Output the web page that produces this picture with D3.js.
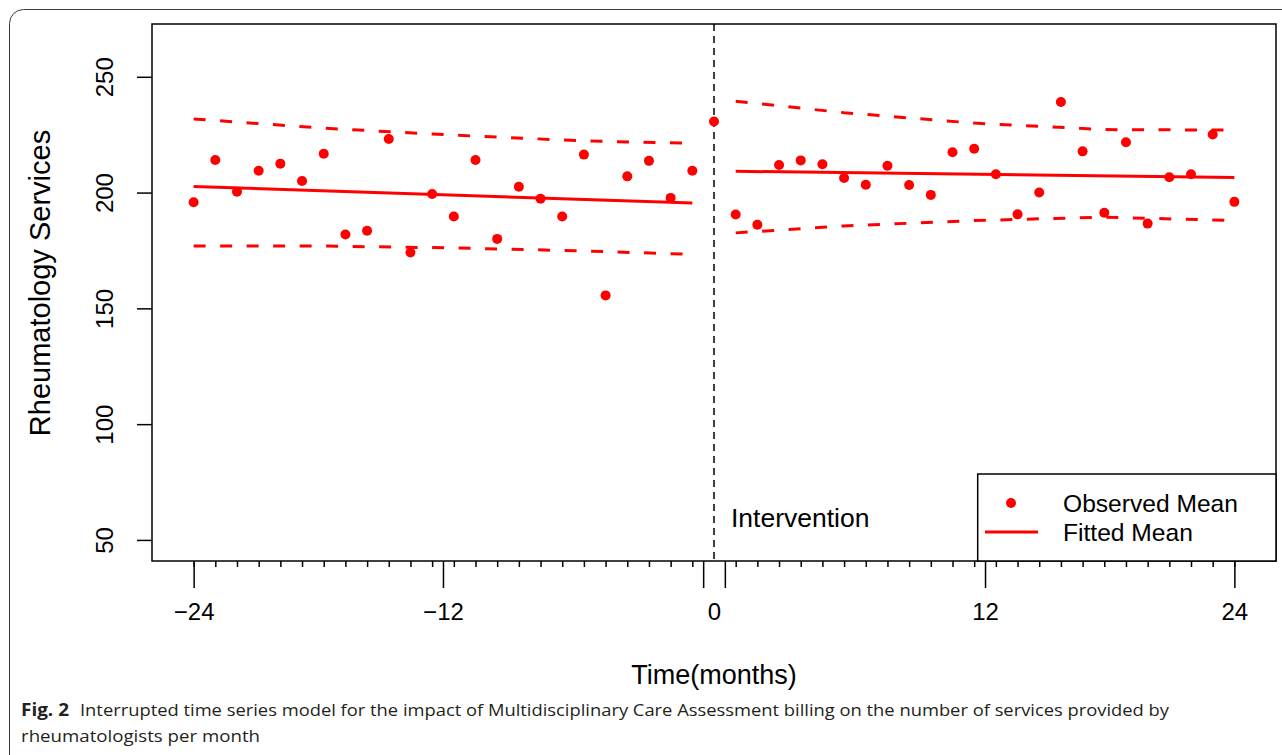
<!DOCTYPE html>
<html>
<head>
<meta charset="utf-8">
<script src="https://cdn.jsdelivr.net/npm/d3@7"></script>
<style>
  body { margin: 0; background: #fff; }
  svg { display: block; font-family: "Liberation Sans", Arial, sans-serif; }
</style>
</head>
<body>
<div id="chart"></div>
<script>
// Observed monthly means (months -24 .. 24)
const obsMonths = [-24, -23, -22, -21, -20, -19, -18, -17, -16, -15, -14, -13, -12,
  -11, -10, -9, -8, -7, -6, -5, -4, -3, -2, -1, 0,
  1, 2, 3, 4, 5, 6, 7, 8, 9, 10, 11, 12, 13, 14, 15, 16, 17, 18, 19, 20, 21, 22, 23, 24];
const obsValues = [195.8, 214.1, 200.4, 209.4, 212.5, 205.0, 216.8, 181.9, 183.5, 223.1, 174.1, 199.4, 189.7,
  214.1, 180.0, 202.5, 197.3, 189.7, 216.4, 155.6, 207.0, 213.7, 197.7, 209.4, 230.7,
  190.5, 186.1, 211.9, 213.9, 212.2, 206.3, 203.4, 211.6, 203.3, 199.0, 217.4, 218.9,
  207.9, 190.6, 200.0, 239.1, 217.8, 191.3, 221.7, 186.6, 206.6, 207.9, 225.1, 196.0];

// Fitted mean segments
const fitPreMonths = [-24, -1];
const fitPreValues = [202.6, 195.5];
const fitPostMonths = [1, 24];
const fitPostValues = [209.2, 206.5];

// Confidence bands (dashed)
const ciPreMonths = [-24, -18, -12, -6, -1];
const ciPreUpper = [231.8, 227.8, 224.8, 222.3, 221.3];
const ciPreLower = [176.9, 176.9, 176.1, 174.8, 173.3];
const ciPostMonths = [1, 6, 12, 18, 24];
const ciPostUpper = [239.4, 234.5, 230.0, 227.2, 227.0];
const ciPostLower = [182.6, 185.6, 187.9, 189.4, 187.9];

// Axes
const yTicks = [50, 100, 150, 200, 250];
const xMajorTicks = [-24, -12.5, -0.5, 0.5, 12.5, 24];
const xLabelPos = [-24, -12.5, 0, 12.5, 24];
const xLabels = ['\u221224', '\u221212', '0', '12', '24'];
const xMinorTicks = obsMonths.filter(m => m !== 0);

const width = 1282, height = 755;
const plot = {left: 152, right: 1276, top: 24, bottom: 561};
const red = '#ff0000';

const svg = d3.select('#chart').append('svg')
    .attr('width', width)
    .attr('height', height);

// Outer figure frame
svg.append('rect')
    .attr('x', 9.5).attr('y', 9.5)
    .attr('width', 1320).attr('height', 800)
    .attr('rx', 14)
    .attr('fill', 'none')
    .attr('stroke', '#3a3a3a')
    .attr('stroke-width', 1);

const x = d3.scaleLinear().domain([-25.92, 25.92]).range([plot.left, plot.right]);
const y = d3.scaleLinear().domain([40.9, 272.8]).range([plot.bottom, plot.top]);

// Intervention line
svg.append('line')
    .attr('x1', x(0)).attr('x2', x(0))
    .attr('y1', plot.top).attr('y2', plot.bottom)
    .attr('stroke', '#000')
    .attr('stroke-width', 1.5)
    .attr('stroke-dasharray', '7,5');

svg.append('text')
    .attr('x', x(0) + 17).attr('y', 527)
    .attr('font-size', 26.5)
    .text('Intervention');

const line = d3.line().x(d => x(d[0])).y(d => y(d[1]));
const zip = (a, b) => a.map((v, i) => [v, b[i]]);

// Dashed bands
[[ciPreMonths, ciPreUpper], [ciPreMonths, ciPreLower],
 [ciPostMonths, ciPostUpper], [ciPostMonths, ciPostLower]].forEach(([m, v]) => {
  svg.append('path')
      .attr('d', line(zip(m, v)))
      .attr('fill', 'none')
      .attr('stroke', red)
      .attr('stroke-width', 3)
      .attr('stroke-dasharray', '12,14.5');
});

// Fitted lines
[[fitPreMonths, fitPreValues], [fitPostMonths, fitPostValues]].forEach(([m, v]) => {
  svg.append('path')
      .attr('d', line(zip(m, v)))
      .attr('fill', 'none')
      .attr('stroke', red)
      .attr('stroke-width', 3);
});

// Observed points
svg.append('g').selectAll('circle')
  .data(zip(obsMonths, obsValues))
  .join('circle')
    .attr('cx', d => x(d[0]))
    .attr('cy', d => y(d[1]))
    .attr('r', 5)
    .attr('fill', red);

// Y axis
const yAxis = svg.append('g')
    .attr('transform', `translate(${plot.left},0)`)
    .call(d3.axisLeft(y).tickValues(yTicks).tickSize(15).tickFormat(d3.format('d')));
yAxis.select('.domain').remove();
yAxis.selectAll('line').attr('stroke-width', 1.5);
yAxis.selectAll('text')
    .attr('font-size', 24)
    .attr('fill', '#000')
    .attr('x', null).attr('dy', null)
    .attr('text-anchor', 'middle')
    .attr('transform', `translate(${113 - plot.left},0) rotate(-90)`);

// X axis: minor month ticks, major ticks, labels
const xMinor = svg.append('g')
    .attr('transform', `translate(0,${plot.bottom})`)
    .call(d3.axisBottom(x).tickValues(xMinorTicks).tickSize(6).tickFormat(''));
xMinor.select('.domain').remove();
xMinor.selectAll('line').attr('stroke-width', 1.5);

const xMajor = svg.append('g')
    .attr('transform', `translate(0,${plot.bottom})`)
    .call(d3.axisBottom(x).tickValues(xMajorTicks).tickSize(27).tickFormat(''));
xMajor.select('.domain').remove();
xMajor.selectAll('line').attr('stroke-width', 1.5);

const xLab = svg.append('g')
    .attr('transform', `translate(0,${plot.bottom})`)
    .call(d3.axisBottom(x).tickValues(xLabelPos).tickSize(0)
      .tickFormat((d, i) => xLabels[i]));
xLab.select('.domain').remove();
xLab.selectAll('text')
    .attr('font-size', 24)
    .attr('fill', '#000')
    .attr('dy', null)
    .attr('y', 620 - plot.bottom);

// Plot box
svg.append('rect')
    .attr('x', plot.left).attr('y', plot.top)
    .attr('width', plot.right - plot.left)
    .attr('height', plot.bottom - plot.top)
    .attr('fill', 'none')
    .attr('stroke', '#000')
    .attr('stroke-width', 1.5);

// Axis titles
svg.append('text')
    .attr('transform', `translate(50,283) rotate(-90)`)
    .attr('text-anchor', 'middle')
    .attr('font-size', 29)
    .text('Rheumatology Services');

svg.append('text')
    .attr('x', x(0)).attr('y', 684)
    .attr('text-anchor', 'middle')
    .attr('font-size', 27)
    .text('Time(months)');

// Legend
const legend = svg.append('g');
legend.append('rect')
    .attr('x', 977.7).attr('y', 474)
    .attr('width', plot.right - 977.7).attr('height', plot.bottom - 474)
    .attr('fill', '#fff')
    .attr('stroke', '#000')
    .attr('stroke-width', 1.5);
legend.append('circle')
    .attr('cx', 1011).attr('cy', 503).attr('r', 5).attr('fill', red);
legend.append('line')
    .attr('x1', 985).attr('x2', 1038).attr('y1', 532).attr('y2', 532)
    .attr('stroke', red).attr('stroke-width', 3);
legend.append('text')
    .attr('x', 1063).attr('y', 512).attr('font-size', 24.6)
    .text('Observed Mean');
legend.append('text')
    .attr('x', 1063).attr('y', 541).attr('font-size', 24.6)
    .text('Fitted Mean');

// Caption
const cap = svg.append('g')
    .attr('font-family', '"Open Sans", "Noto Sans", sans-serif')
    .attr('font-size', 17)
    .attr('fill', '#231f20');
cap.append('text')
    .attr('x', 21).attr('y', 716)
    .attr('font-weight', 'bold')
    .attr('textLength', 48).attr('lengthAdjust', 'spacingAndGlyphs')
    .text('Fig. 2');
cap.append('text')
    .attr('x', 80).attr('y', 716)
    .attr('textLength', 1089).attr('lengthAdjust', 'spacingAndGlyphs')
    .text('Interrupted time series model for the impact of Multidisciplinary Care Assessment billing on the number of services provided by');
cap.append('text')
    .attr('x', 21).attr('y', 742)
    .attr('textLength', 239).attr('lengthAdjust', 'spacingAndGlyphs')
    .text('rheumatologists per month');
</script>
</body>
</html>
